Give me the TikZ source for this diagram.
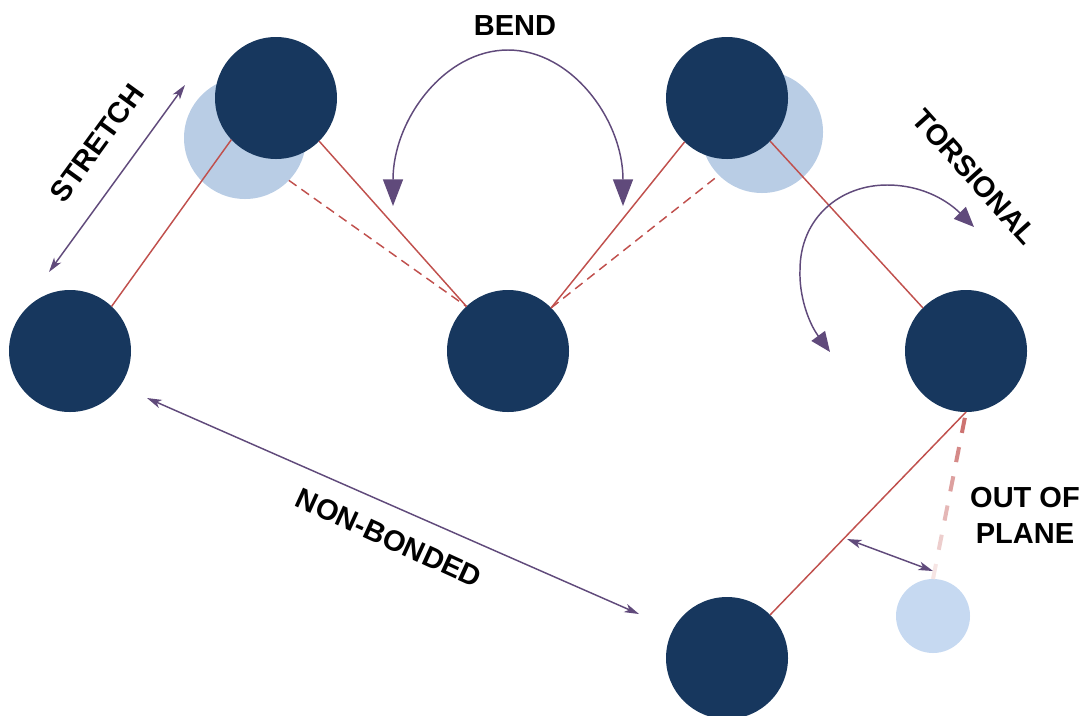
\documentclass[tikz,border=0pt]{standalone}
\usepackage{fontspec}
\setmainfont{Liberation Sans}
\usetikzlibrary{arrows.meta,calc}

\definecolor{atomdark}{HTML}{17375E}
\definecolor{atomlight}{HTML}{B9CDE5}
\definecolor{atompale}{HTML}{C6D9F1}
\definecolor{bondred}{HTML}{C0504D}
\definecolor{motion}{HTML}{604A7B}

\tikzset{
  atom/.style={circle, fill=atomdark, minimum size=91.5pt, inner sep=0pt, outer sep=0pt},
  ghost/.style={atom, fill=atomlight},
  smallghost/.style={atom, fill=atompale, minimum size=55.5pt},
  bond/.style={draw=bondred, line width=1.1pt},
  bonddash/.style={bond, dash pattern=on 7pt off 4.5pt},
  motionline/.style={draw=motion, line width=1.1pt},
  smallhead/.tip={Stealth[length=11pt,width=6.5pt,inset=3pt]},
  bighead/.tip={Triangle[length=20pt,width=15pt]},
  midhead/.tip={Triangle[length=15pt,width=12.5pt]},
  twoway/.style={motionline, smallhead-smallhead},
  termtext/.style={font=\bfseries\fontsize{21.75}{27}\selectfont, inner sep=0pt, align=center},
}

\begin{document}
\begin{tikzpicture}[x=0.75pt,y=-0.75pt]
\clip (0,0) rectangle (1084,715);

% displaced (ghost) atom positions, behind the atoms
\node[ghost] (Bg) at (245,138) {};
\node[ghost] (Dg) at (762,132) {};

% atoms
\node[atom] (A) at (70,351) {};
\node[atom] (B) at (276,98) {};
\node[atom] (C) at (508,351) {};
\node[atom] (D) at (727,98) {};
\node[atom] (E) at (966,351) {};
\node[atom] (F) at (727,658) {};
\node[smallghost] (G) at (933,616) {};

% bonds
\draw[bond] (A.47) -- (B.223);
\draw[bond] (B.315) -- (C.133);
\draw[bonddash] (Bg.316) -- (C.133);
\draw[bond] (C.45) -- (D.226);
\draw[bonddash] (C.45) -- (Dg.225);
\draw[bond] (D.315) -- (E.135);
\draw[bond] (E.270) -- (F.45);

% fading dashed bond to the out-of-plane position
\foreach \i in {0,...,5} {
  \pgfmathsetmacro\s{0.035+0.175*\i}
  \pgfmathsetmacro\e{\s+0.09}
  \pgfmathtruncatemacro\c{80-13*\i}
  \draw[draw=bondred!\c, line width=3pt] ($(E.270)!\s!(G.90)$) -- ($(E.270)!\e!(G.90)$);
}

% stretch
\coordinate (s1) at (185,85);
\coordinate (s2) at (49,272);
\draw[twoway] (s1) -- (s2);
\node[termtext, rotate=54] (stretch) at (97,143) {STRETCH};

% bend
\node[termtext] (bend) at (515,26) {BEND};
\draw[motionline, bighead-bighead] (393,206) arc[start angle=180, end angle=360, x radius=115, y radius=156];

% torsion
\draw[motionline, midhead-midhead] (830,352) .. controls (808,322) and (799,295) .. (800,270)
  .. controls (800,218) and (840,185) .. (887,185)
  .. controls (925,185) and (950,203) .. (974,227);
\node[termtext, rotate=-48] (torsion) at (975,177) {TORSIONAL};

% non-bonded
\coordinate (n1) at (147,398);
\coordinate (n2) at (639,614);
\draw[twoway] (n1) -- (n2);
\node[termtext, rotate=-24.5] (nonbonded) at (389,538) {NON-BONDED};

% out of plane
\coordinate (o1) at (847,539);
\coordinate (o2) at (933,571);
\draw[twoway] (o1) -- (o2);
\node[termtext] (oop) at (1025,515) {OUT OF\\PLANE};
\end{tikzpicture}
\end{document}
